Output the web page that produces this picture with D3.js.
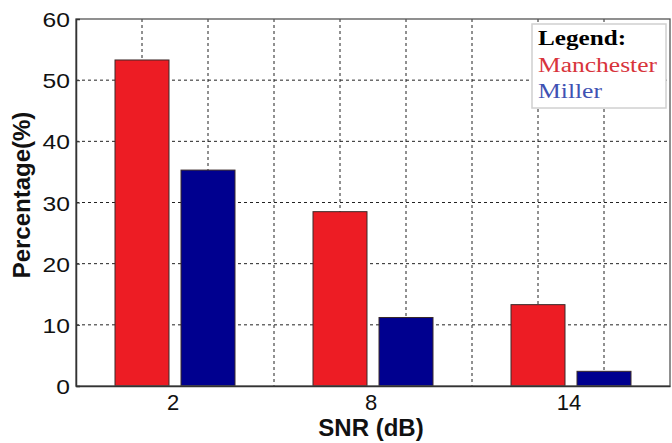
<!DOCTYPE html>
<html>
<head>
<meta charset="utf-8">
<script src="https://cdn.jsdelivr.net/npm/d3@7"></script>
<style>
  body { margin: 0; background: #fff; }
  svg { display: block; }
</style>
</head>
<body>
<script>
var width = 672;
var height = 443;
var margin = { top: 19, right: 2, bottom: 57, left: 76 };

// data
var categories = ["2", "8", "14"];
var seriesNames = ["Manchester", "Miller"];
var manchester = [53.3, 28.5, 13.3];
var miller = [35.3, 11.2, 2.4];
var yTicks = [0, 10, 20, 30, 40, 50, 60];
var colors = ["#ed1c24", "#00008f"];
var legendColors = ["#d8343b", "#3f52b3"];

var rows = categories.map(function(c, i) {
  return { cat: c, values: [manchester[i], miller[i]] };
});

var x0 = margin.left, x1 = width - margin.right;
var y0 = height - margin.bottom, y1 = margin.top;

var xScale = d3.scaleBand().domain(categories).range([x0, x1]).padding(0);
var inner = d3.scaleBand().domain(seriesNames).range([-60, 60]).paddingInner(0.182);
var yScale = d3.scaleLinear().domain([0, 60]).range([y0, y1]);
// vertical grid lines split the box in 9 parts
var gridScale = d3.scaleLinear().domain([0, 9]).range([x0, x1]);

var svg = d3.select("body").append("svg")
  .attr("width", width)
  .attr("height", height);

// grid
svg.append("g")
  .selectAll("line.h")
  .data(yTicks.slice(1, -1))
  .enter().append("line")
  .attr("x1", x0).attr("x2", x1)
  .attr("y1", function(d) { return yScale(d); })
  .attr("y2", function(d) { return yScale(d); })
  .attr("stroke", "#222").attr("stroke-width", 1)
  .attr("stroke-dasharray", "3,3");

svg.append("g")
  .selectAll("line.v")
  .data(d3.range(1, 9))
  .enter().append("line")
  .attr("y1", y1).attr("y2", y0)
  .attr("x1", function(d) { return gridScale(d); })
  .attr("x2", function(d) { return gridScale(d); })
  .attr("stroke", "#222").attr("stroke-width", 1)
  .attr("stroke-dasharray", "3,3");

// bars
var groups = svg.append("g")
  .selectAll("g")
  .data(rows)
  .enter().append("g")
  .attr("transform", function(d) {
    return "translate(" + (xScale(d.cat) + xScale.bandwidth() / 2) + ",0)";
  });

groups.selectAll("rect")
  .data(function(d) { return d.values; })
  .enter().append("rect")
  .attr("x", function(d, i) { return inner(seriesNames[i]); })
  .attr("width", inner.bandwidth())
  .attr("y", function(d) { return yScale(d); })
  .attr("height", function(d) { return yScale(0) - yScale(d); })
  .attr("fill", function(d, i) { return colors[i]; })
  .attr("stroke", "#3a2a2a")
  .attr("stroke-width", 1);

// box
svg.append("rect")
  .attr("x", x0).attr("y", y1)
  .attr("width", x1 - x0).attr("height", y0 - y1)
  .attr("fill", "none")
  .attr("stroke", "#555")
  .attr("stroke-width", 1.3);

// axes
var yAxis = d3.axisLeft(yScale).tickValues(yTicks).tickSize(-4).tickPadding(6);
var gy = svg.append("g")
  .attr("transform", "translate(" + x0 + ",0)")
  .call(yAxis);
gy.select(".domain").attr("stroke", "#333").attr("stroke-width", 1.5);
gy.selectAll(".tick line").attr("stroke", "#333");
gy.selectAll("text")
  .attr("font-family", "Arial, 'Liberation Sans', sans-serif")
  .attr("font-size", 21)
  .attr("fill", "#111")
  .attr("dy", "0.36em")
  .attr("textLength", function(d) { return String(d).length * 13.7; })
  .attr("lengthAdjust", "spacingAndGlyphs");

var xAxis = d3.axisBottom(xScale).tickSize(0).tickPadding(8);
var gx = svg.append("g")
  .attr("transform", "translate(0," + y0 + ")")
  .call(xAxis);
gx.select(".domain").attr("stroke", "#333").attr("stroke-width", 1.5);
gx.selectAll("text")
  .attr("font-family", "Arial, 'Liberation Sans', sans-serif")
  .attr("font-size", 22)
  .attr("fill", "#111")
  .attr("dx", "-2");

// titles
svg.append("text")
  .attr("x", (x0 + x1) / 2 - 2)
  .attr("y", 436)
  .attr("text-anchor", "middle")
  .attr("font-family", "Arial, 'Liberation Sans', sans-serif")
  .attr("font-weight", "bold")
  .attr("font-size", 24)
  .attr("fill", "#111")
  .text("SNR (dB)");

svg.append("text")
  .attr("transform", "translate(30," + 195 + ") rotate(-90)")
  .attr("text-anchor", "middle")
  .attr("font-family", "Arial, 'Liberation Sans', sans-serif")
  .attr("font-weight", "bold")
  .attr("font-size", 24)
  .attr("fill", "#111")
  .text("Percentage(%)");

// legend
var legend = svg.append("g").attr("transform", "translate(532,24)");
legend.append("rect")
  .attr("width", 134).attr("height", 84)
  .attr("fill", "#fff")
  .attr("stroke", "#d0d0d0")
  .attr("stroke-width", 1.5);

var legendLines = [
  { text: "Legend:", color: "#000", bold: true, len: 88 },
  { text: seriesNames[0], color: legendColors[0], bold: false, len: 119 },
  { text: seriesNames[1], color: legendColors[1], bold: false, len: 64 }
];
legend.selectAll("text")
  .data(legendLines)
  .enter().append("text")
  .attr("x", 6)
  .attr("y", function(d, i) { return 21 + i * 26.5; })
  .attr("font-family", "'Times New Roman', 'Liberation Serif', serif")
  .attr("font-size", 20)
  .attr("font-weight", function(d) { return d.bold ? "bold" : "normal"; })
  .attr("fill", function(d) { return d.color; })
  .attr("textLength", function(d) { return d.len; })
  .attr("lengthAdjust", "spacingAndGlyphs")
  .text(function(d) { return d.text; });
</script>
</body>
</html>
